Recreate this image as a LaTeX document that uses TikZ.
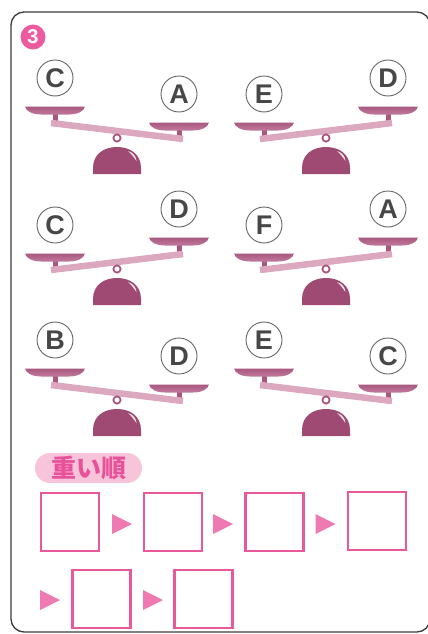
\documentclass[tikz,border=0pt]{standalone}
\usepackage{fontspec}
\setmainfont{Liberation Sans}
\newfontfamily\cjk{Noto Sans CJK JP}
\definecolor{framegray}{HTML}{3C3C3C}
\definecolor{badgepink}{HTML}{EC5AA0}
\definecolor{boxpink}{HTML}{E8589A}
\definecolor{tripink}{HTML}{EF7AB2}
\definecolor{pillfill}{HTML}{F8C4DA}
\definecolor{pilltext}{HTML}{E8529A}
\definecolor{domecol}{HTML}{9E4A72}
\definecolor{pantop}{HTML}{A9577F}
\definecolor{panbot}{HTML}{C07A9C}
\definecolor{beamcol}{HTML}{DCA8C0}
\definecolor{ringcol}{HTML}{A85580}
\definecolor{ballline}{HTML}{666666}
\definecolor{lettergray}{HTML}{474747}
\tikzset{
  ball/.style={circle, draw=ballline, line width=0.9pt, fill=white, minimum size=36pt,
    inner sep=0pt, font=\fontsize{27}{27}\selectfont\bfseries, text=lettergray},
  ansbox/.style={draw=boxpink, line width=2.3pt, minimum size=58pt, inner sep=0pt},
  beamline/.style={draw=beamcol, line width=6.5pt, line cap=butt},
  trifill/.style={fill=tripink},
}
\newcommand\mypan[2]{%
  \shade[top color=pantop, bottom color=panbot]
    ({#1-30},{#2}) -- ({#1+30},{#2}) .. controls ({#1+29},{#2+5}) and ({#1+22},{#2+8}) ..
    ({#1+14},{#2+8}) -- ({#1-14},{#2+8}) .. controls ({#1-22},{#2+8}) and ({#1-29},{#2+5}) ..
    cycle;}
% #1 x, #2 y (pivot), #3 tilt (+1 left up, -1 right up), #4 left letter, #5 right letter, #6 name
\newcommand\balance[6]{%
  \begin{scope}[shift={(#1,#2)}]
    \pgfmathsetmacro\ly{-7-8*#3}
    \pgfmathsetmacro\ry{-7+8*#3}
    % stems
    \fill[pantop] (-64.5,{\ly-10}) rectangle (-59.5,{\ly});
    \fill[pantop] (59.5,{\ry-10}) rectangle (64.5,{\ry});
    % beam
    \draw[beamline] (-66,{\ly}) -- (66,{\ry});
    % pans
    \mypan{-62}{\ly-16.5}
    \mypan{62}{\ry-16.5}
    % ring
    \draw[ringcol, line width=1.8pt, fill=white] (0,0) circle (3.6);
    % dome
    \fill[domecol] (-24,36) -- (-24,30) .. controls (-24,16) and (-13,9) .. (0,9)
      .. controls (13,9) and (24,16) .. (24,30) -- (24,36) -- cycle;
    \fill[white, opacity=0.85] (11,13) .. controls (16,14.5) and (19,18) .. (19.5,23)
      .. controls (17,19.5) and (14.5,16) .. (11,13);
    % letters
    \node[ball] (#6L) at (-62,{\ly-45}) {#4};
    \node[ball] (#6R) at (62,{\ry-45}) {#5};
  \end{scope}}
\newcommand\tri[2]{\fill[trifill] ({#1-10},{#2-10}) -- ({#1+10},{#2}) -- ({#1-10},{#2+10}) -- cycle;}
\begin{document}
\begin{tikzpicture}[x=1pt, y=-1pt]
  \useasboundingbox (0,0) rectangle (428,634);
  \fill[white] (0,0) rectangle (428,634);
  % frame
  \draw[framegray, line width=1.3pt, rounded corners=13] (11,12) rectangle (430,632);
  % badge
  \node[circle, fill=badgepink, minimum size=25pt, inner sep=0pt, text=white,
        font=\fontsize{20}{20}\selectfont\bfseries] (badge) at (33,37) {3};
  % balances
  \balance{117}{138}{1}{C}{A}{sa}
  \balance{326}{138}{-1}{E}{D}{sb}
  \balance{117}{269}{-1}{C}{D}{sc}
  \balance{326}{269}{-1}{F}{A}{sd}
  \balance{117}{400}{1}{B}{D}{se}
  \balance{326}{400}{1}{E}{C}{sf}
  % label
  \node[fill=pillfill, rounded corners=15pt, minimum width=107pt, minimum height=30pt,
        inner sep=0pt, text=pilltext, font=\cjk\fontsize{25}{25}\selectfont\bfseries]
        (lbl) at (88.5,468) {重い順};
  % answer boxes
  \node[ansbox] (b1) at (70,522) {};
  \node[ansbox] (b2) at (173,522) {};
  \node[ansbox] (b3) at (274.5,522) {};
  \node[ansbox] (b4) at (377,521) {};
  \node[ansbox] (b5) at (101.5,599) {};
  \node[ansbox] (b6) at (203.5,599) {};
  \tri{122}{524}
  \tri{223}{524}
  \tri{325.5}{524}
  \tri{50}{600}
  \tri{153}{600}
\end{tikzpicture}
\end{document}
